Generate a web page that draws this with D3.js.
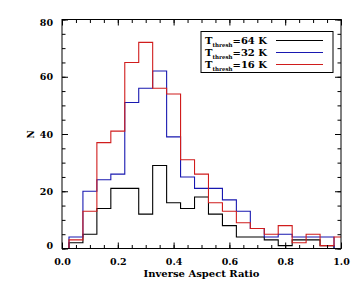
<!DOCTYPE html>
<html>
<head>
<meta charset="utf-8">
<script src="https://cdn.jsdelivr.net/npm/d3@7"></script>
<style>
  body { margin: 0; background: #fff; }
  text { font-family: "DejaVu Serif", serif; font-weight: bold; }
</style>
</head>
<body>
<div id="graph"></div>
<script>
var w = 360, h = 288

// bin centres 0.00, 0.05, ... 1.00
var binCenters = d3.range(21).map(function(i){ return +(i * 0.05).toFixed(2) })
var binWidth = 0.05

var black = [0, 2, 5, 14, 21, 21, 12, 29, 16, 14, 18, 12, 8, 4, 4, 3, 1, 3, 3, 1, 0]
var blue  = [0, 4, 20, 24, 26, 51, 56, 62, 39, 25, 21, 21, 17, 13, 7, 4, 5, 4, 4, 4, 0]
var red   = [0, 3, 13, 37, 41, 65, 72, 56, 54, 31, 26, 16, 13, 9, 7, 5, 8, 2, 5, 1, 4]

var seriesNames = ['64', '32', '16']
var seriesColors = ['#000000', '#1818b0', '#d01c1c']

var xMajor = [0, 0.2, 0.4, 0.6, 0.8, 1.0]
var xMinor = d3.range(21).map(function(i){ return i * 0.05 })
var yMajor = [0, 20, 40, 60, 80]
var yMinor = d3.range(17).map(function(i){ return i * 5 })

// plot frame (note: "top" is a reserved window global)
var pL = 62, pR = 341, pT = 19.5, pB = 248.5

var x = d3.scaleLinear().domain([0, 1]).range([pL, pR])
var y = d3.scaleLinear().domain([0, 80]).range([pB, pT])

var svg = d3.select('#graph').append('svg')
    .attr('width', w).attr('height', h)

svg.append('clipPath').attr('id', 'clip')
  .append('rect')
    .attr('x', pL).attr('y', pT)
    .attr('width', pR - pL).attr('height', pB - pT)

var line = d3.line()
    .x(function(d){ return x(d[0]) })
    .y(function(d){ return y(d[1]) })
    .curve(d3.curveStepAfter)

function steps(vals){
  var pts = vals.map(function(v, i){ return [binCenters[i] - binWidth / 2, v] })
  pts.push([binCenters[vals.length - 1] + binWidth / 2, vals[vals.length - 1]])
  return pts
}

var g = svg.append('g').attr('clip-path', 'url(#clip)')
;[black, blue, red].forEach(function(vals, i){
  g.append('path')
      .attr('d', line(steps(vals)))
      .attr('fill', 'none')
      .attr('stroke', seriesColors[i])
      .attr('stroke-width', 1.1)
})

// axes, ticks inward on all four sides
function addAxis(axis, tx, ty, labels){
  var a = svg.append('g').attr('transform', 'translate(' + tx + ',' + ty + ')').call(axis)
  a.select('.domain').remove()
  a.selectAll('line').attr('stroke', '#000')
  if (!labels) a.selectAll('text').remove()
  return a
}

var xb = addAxis(d3.axisBottom(x).tickValues(xMajor).tickSize(-6).tickPadding(10)
    .tickFormat(d3.format('.1f')), 0, pB, true)
xb.selectAll('text').attr('font-size', 9.5).attr('font-family', null).attr('fill', '#000')
addAxis(d3.axisBottom(x).tickValues(xMinor).tickSize(-3.5), 0, pB, false)
addAxis(d3.axisTop(x).tickValues(xMajor).tickSize(-6), 0, pT, false)
addAxis(d3.axisTop(x).tickValues(xMinor).tickSize(-3.5), 0, pT, false)

var yl = addAxis(d3.axisLeft(y).tickValues(yMajor).tickSize(-6).tickPadding(9)
    .tickFormat(d3.format('d')), pL, 0, true)
yl.selectAll('text').attr('font-size', 9.5).attr('font-family', null).attr('fill', '#000')
  .attr('dy', function(d){ return d == 0 ? '-0.0em' : d == 80 ? '0.65em' : '0.32em' })
addAxis(d3.axisLeft(y).tickValues(yMinor).tickSize(-3.5), pL, 0, false)
addAxis(d3.axisRight(y).tickValues(yMajor).tickSize(-6), pR, 0, false)
addAxis(d3.axisRight(y).tickValues(yMinor).tickSize(-3.5), pR, 0, false)

svg.append('rect')
    .attr('x', pL).attr('y', pT)
    .attr('width', pR - pL).attr('height', pB - pT)
    .attr('fill', 'none').attr('stroke', '#000').attr('stroke-width', 1)

svg.append('text')
    .attr('x', (pL + pR) / 2).attr('y', 277)
    .attr('text-anchor', 'middle').attr('font-size', 10)
    .text('Inverse Aspect Ratio')

svg.append('text')
    .attr('transform', 'translate(37,134.5) rotate(-90)')
    .attr('text-anchor', 'middle').attr('font-size', 9)
    .attr('dy', '-0.3em')
    .text('N')

// legend
var lg = svg.append('g')
lg.append('rect')
    .attr('x', 201).attr('y', 31.5).attr('width', 132).attr('height', 41)
    .attr('fill', '#fff').attr('stroke', '#000')

seriesNames.forEach(function(name, i){
  var yy = 40.5 + i * 12
  var t = lg.append('text').attr('x', 205).attr('y', yy + 3.5).attr('font-size', 10)
  t.append('tspan').text('T')
  t.append('tspan').attr('font-size', 5.5).attr('dy', 2.5).text('thresh')
  t.append('tspan').attr('dy', -2.5).text('=' + name + '\u00a0K')
  lg.append('line')
      .attr('x1', 276).attr('x2', 323).attr('y1', yy).attr('y2', yy)
      .attr('stroke', seriesColors[i]).attr('stroke-width', 1.1)
})
</script>
</body>
</html>
